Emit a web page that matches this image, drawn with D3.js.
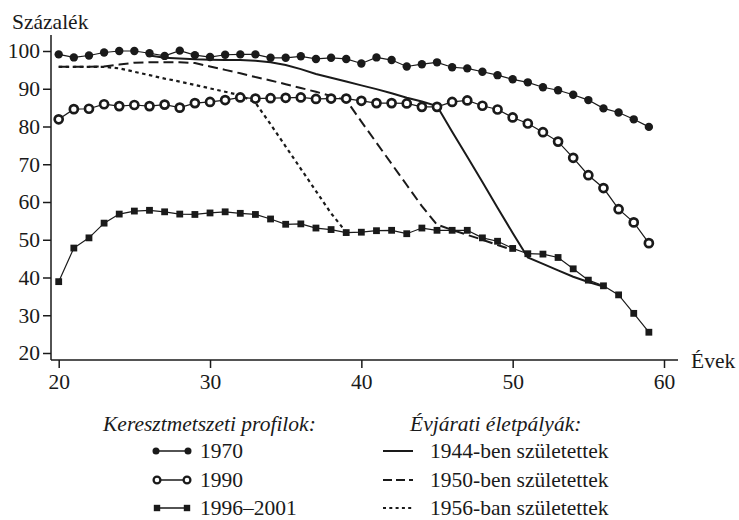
<!DOCTYPE html>
<html>
<head>
<meta charset="utf-8">
<script src="https://cdn.jsdelivr.net/npm/d3@7"></script>
<style>
  html, body { margin: 0; padding: 0; background: #fff; }
  svg text { font-family: "Liberation Serif", "Times New Roman", serif; fill: #1a1a1a; }
</style>
</head>
<body>
<svg id="chart" width="739" height="520"></svg>
<script>
// ---- data ----
const ages = [20,21,22,23,24,25,26,27,28,29,30,31,32,33,34,35,36,37,38,39,
              40,41,42,43,44,45,46,47,48,49,50,51,52,53,54,55,56,57,58,59];
const s1970 = [99.1,98.3,98.8,99.6,100.0,100.0,99.4,98.7,100.1,98.9,
               98.4,99.0,99.1,99.1,98.2,98.2,98.6,97.9,98.2,97.9,
               96.7,98.3,97.6,95.9,96.5,97.0,95.7,95.4,94.5,93.6,
               92.5,91.7,90.4,89.6,88.4,87.0,84.8,83.7,81.9,79.9];
const s1990 = [81.9,84.6,84.7,85.9,85.4,85.7,85.4,85.8,85.0,86.2,
               86.5,87.0,87.7,87.4,87.5,87.6,87.7,87.3,87.4,87.4,
               86.8,86.2,86.2,86.1,85.2,85.2,86.5,86.9,85.5,84.5,
               82.4,80.8,78.5,76.0,71.7,67.1,63.7,58.1,54.6,49.1];
const s1996 = [38.9,47.8,50.5,54.4,56.8,57.6,57.8,57.4,56.8,56.7,
               57.1,57.4,57.0,56.7,55.5,54.1,54.2,53.1,52.7,51.9,
               52.0,52.4,52.5,51.6,53.1,52.5,52.5,52.5,50.5,49.6,
               47.7,46.3,46.2,45.3,42.3,39.3,37.8,35.4,30.5,25.5];

const c1944Ages = [26,27,28,29,30,31,32,33,34,35,36,37,38,39,40,41,42,43,44,45,46,47,48,49,50,51,52,53,54,55,56];
const c1944 = [98.8,98.2,98.0,97.8,97.7,97.6,97.6,97.4,97.0,96.3,95.2,93.9,92.9,91.9,90.9,89.9,88.8,87.6,86.6,85.4,
               78.6,72.0,65.3,58.5,51.8,45.3,43.6,41.9,40.2,38.8,37.6];
const c1950Ages = [20,21,22,23,24,25,26,27,28,29,30,31,32,33,34,35,36,37,38,39,40,41,42,43,44,45,46,47,48,49,50];
const c1950 = [95.8,95.8,95.8,95.9,96.4,96.9,97.0,97.0,97.0,96.8,95.9,95.0,94.1,93.1,92.2,91.2,90.2,89.2,88.1,87.0,
               81.3,75.7,70.1,64.5,58.9,54.0,52.6,51.3,50.0,48.6,47.3];
const c1956Ages = [20,21,22,23,24,25,26,27,28,29,30,31,32,33,34,35,36,37,38,39];
const c1956 = [95.8,95.8,95.8,95.8,95.4,94.5,93.6,92.7,91.9,91.0,90.1,89.2,88.3,86.3,80.6,74.7,68.8,62.9,57.0,52.0];

const xTicks = [20,30,40,50,60];
const yTicks = [20,30,40,50,60,70,80,90,100];
const yTitle = "Százalék";
const xTitle = "Évek";
const legendLeftTitle = "Keresztmetszeti profilok:";
const legendLeftLabels = ["1970","1990","1996–2001"];
const legendRightTitle = "Évjárati életpályák:";
const legendRightLabels = ["1944-ben születettek","1950-ben születettek","1956-ban születettek"];

// ---- drawing ----
const ink = "#1a1a1a";
const fs = 21.5;
const svg = d3.select("#chart");
const x = d3.scaleLinear().domain([20,60]).range([58.7,664]);
const y = d3.scaleLinear().domain([20,100]).range([353,51]);

const axisX0 = 51, axisY0 = 360;

// axes
const gy = svg.append("g").attr("transform", `translate(${axisX0},0)`)
  .call(d3.axisLeft(y).tickValues(yTicks).tickSize(8).tickPadding(3));
gy.select(".domain").remove();
const gx = svg.append("g").attr("transform", `translate(0,${axisY0})`)
  .call(d3.axisBottom(x).tickValues(xTicks).tickSize(8).tickPadding(6));
gx.select(".domain").remove();
svg.selectAll(".tick line").attr("stroke", ink).attr("stroke-width", 1.5);
svg.selectAll(".tick text").attr("font-size", fs).attr("fill", ink)
   .style("font-family", "'Liberation Serif', serif");
svg.append("line").attr("x1", axisX0).attr("x2", axisX0).attr("y1", 35).attr("y2", axisY0)
   .attr("stroke", ink).attr("stroke-width", 1.5);
svg.append("line").attr("x1", axisX0).attr("x2", 678).attr("y1", axisY0).attr("y2", axisY0)
   .attr("stroke", ink).attr("stroke-width", 1.5);

svg.append("text").attr("x", 12).attr("y", 29).attr("font-size", fs).text(yTitle);
svg.append("text").attr("x", 691).attr("y", 368).attr("font-size", fs).text(xTitle);

const line = d3.line().x(d => x(d[0])).y(d => y(d[1]));
const zip = (a, b) => a.map((v, i) => [v, b[i]]);

// cohort lines
svg.append("path").datum(zip(c1944Ages, c1944)).attr("d", line)
  .attr("fill", "none").attr("stroke", ink).attr("stroke-width", 2);
svg.append("path").datum(zip(c1950Ages, c1950)).attr("d", line)
  .attr("fill", "none").attr("stroke", ink).attr("stroke-width", 2).attr("stroke-dasharray", "10,5");
svg.append("path").datum(zip(c1956Ages, c1956)).attr("d", line)
  .attr("fill", "none").attr("stroke", ink).attr("stroke-width", 2.2).attr("stroke-dasharray", "3.5,3.5");

// cross-section series
function series(vals, kind) {
  const data = zip(ages, vals);
  svg.append("path").datum(data).attr("d", line)
    .attr("fill", "none").attr("stroke", ink).attr("stroke-width", 1.2);
  drawMarkers(svg.append("g"), data.map(d => [x(d[0]), y(d[1])]), kind);
}
function drawMarkers(g, pts, kind) {
  if (kind === "filled") {
    g.selectAll("circle").data(pts).join("circle")
      .attr("cx", d => d[0]).attr("cy", d => d[1]).attr("r", 4.2).attr("fill", ink);
  } else if (kind === "open") {
    g.selectAll("circle").data(pts).join("circle")
      .attr("cx", d => d[0]).attr("cy", d => d[1]).attr("r", 4)
      .attr("fill", "#fff").attr("stroke", ink).attr("stroke-width", 2.7);
  } else {
    g.selectAll("rect").data(pts).join("rect")
      .attr("x", d => d[0] - 3.4).attr("y", d => d[1] - 3.4)
      .attr("width", 6.8).attr("height", 6.8).attr("fill", ink);
  }
}
series(s1970, "filled");
series(s1990, "open");
series(s1996, "square");

// legend
const rowY = [451, 480, 508];
svg.append("text").attr("x", 103).attr("y", 431).attr("font-size", fs)
   .attr("font-style", "italic").text(legendLeftTitle);
const kinds = ["filled","open","square"];
legendLeftLabels.forEach((lab, i) => {
  const yy = rowY[i];
  svg.append("line").attr("x1", 155).attr("x2", 189).attr("y1", yy).attr("y2", yy)
     .attr("stroke", ink).attr("stroke-width", 1.3);
  const g = svg.append("g");
  if (kinds[i] === "filled") {
    g.selectAll("circle").data([[156, yy],[188, yy]]).join("circle")
      .attr("cx", d => d[0]).attr("cy", d => d[1]).attr("r", 3.5).attr("fill", ink);
  } else if (kinds[i] === "open") {
    g.selectAll("circle").data([[157, yy],[187, yy]]).join("circle")
      .attr("cx", d => d[0]).attr("cy", d => d[1]).attr("r", 3.4)
      .attr("fill", "#fff").attr("stroke", ink).attr("stroke-width", 2.3);
  } else {
    g.selectAll("rect").data([[157, yy],[187, yy]]).join("rect")
      .attr("x", d => d[0] - 3.2).attr("y", d => d[1] - 3.2).attr("width", 6.4).attr("height", 6.4).attr("fill", ink);
  }
  svg.append("text").attr("x", 200).attr("y", yy + 6.5).attr("font-size", fs).text(lab);
});

svg.append("text").attr("x", 410).attr("y", 431).attr("font-size", fs)
   .attr("font-style", "italic").text(legendRightTitle);
const dashes = [null, "9,4", "3,3.3"];
legendRightLabels.forEach((lab, i) => {
  const yy = rowY[i];
  const l = svg.append("line").attr("x1", 383).attr("x2", 413).attr("y1", yy).attr("y2", yy)
     .attr("stroke", ink).attr("stroke-width", 2);
  if (dashes[i]) l.attr("stroke-dasharray", dashes[i]);
  svg.append("text").attr("x", 430).attr("y", yy + 6.5).attr("font-size", fs).text(lab);
});
</script>
</body>
</html>
